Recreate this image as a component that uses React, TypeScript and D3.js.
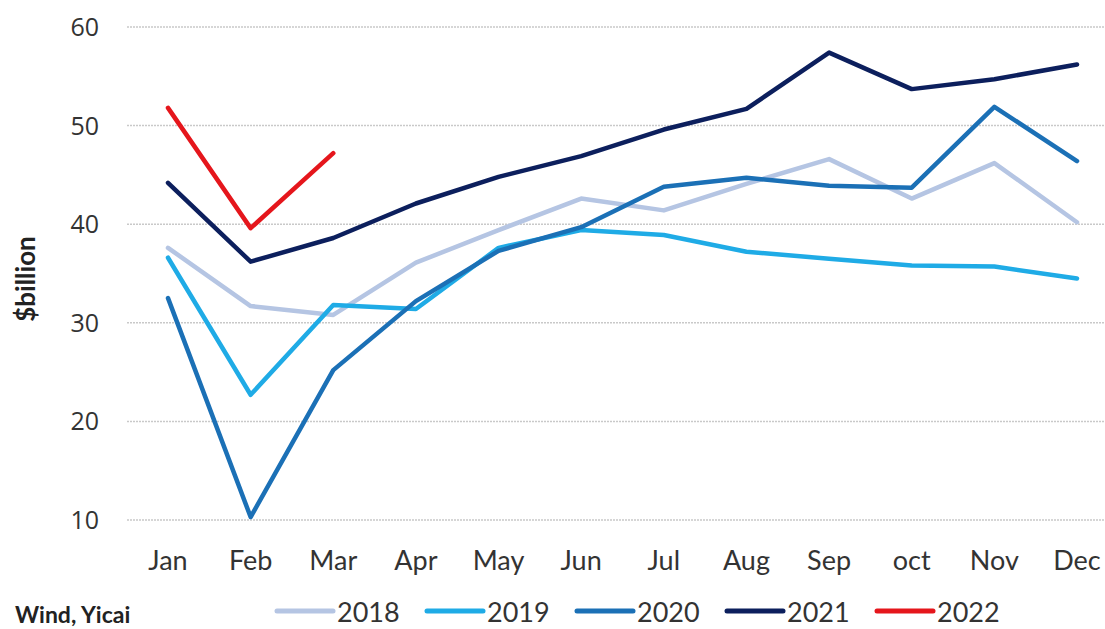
import React from "react";
import * as d3 from "d3";

const months = ["Jan", "Feb", "Mar", "Apr", "May", "Jun", "Jul", "Aug", "Sep", "oct", "Nov", "Dec"];
const yTicks = [10, 20, 30, 40, 50, 60];

const s2018 = [37.6, 31.7, 30.8, 36.1, 39.4, 42.6, 41.4, 44.1, 46.6, 42.6, 46.2, 40.2];
const s2019 = [36.6, 22.7, 31.8, 31.4, 37.6, 39.4, 38.9, 37.2, 36.5, 35.8, 35.7, 34.5];
const s2020 = [32.5, 10.3, 25.2, 32.2, 37.3, 39.7, 43.8, 44.7, 43.9, 43.7, 51.9, 46.4];
const s2021 = [44.2, 36.2, 38.6, 42.1, 44.8, 46.9, 49.6, 51.7, 57.4, 53.7, 54.7, 56.2];
const s2022 = [51.8, 39.6, 47.2];

const seriesNames = ["2018", "2019", "2020", "2021", "2022"];
const seriesData = [s2018, s2019, s2020, s2021, s2022];
const colors = ["#b5c5e3", "#1fabe6", "#1b70b6", "#0c1f5d", "#e5161c"];

export default function App() {
  const W = 1105, H = 629;
  const x = d3.scalePoint<string>().domain(months).range([168, 1077]);
  const y = d3.scaleLinear().domain([10, 60]).range([520, 27]);
  const line = d3
    .line<number>()
    .x((_, i) => x(months[i]) as number)
    .y((d) => y(d));

  const tickFont = "'Open Sans', 'DejaVu Sans', sans-serif";
  const font = "Lato, 'Open Sans', sans-serif";
  return (
    <svg width={W} height={H} style={{ position: "absolute", left: 0, top: 0, background: "#fff" }}>
      <rect width={W} height={H} fill="#fff" />
      {yTicks.map((t) => (
        <g key={t}>
          <line x1={127} x2={1105} y1={y(t)} y2={y(t)} stroke="#c9c9c9" strokeWidth={1.5} strokeDasharray="2 1" />
          <text x={99} y={y(t) + 9} textAnchor="end" fontFamily={tickFont} fontSize={25} fill="#333">
            {t}
          </text>
        </g>
      ))}
      {months.map((m) => (
        <text key={m} x={x(m)} y={570} textAnchor="middle" fontFamily={font} fontSize={27} fill="#333">
          {m}
        </text>
      ))}
      <text
        transform={`translate(35, 279) rotate(-90)`}
        textAnchor="middle"
        fontFamily={font}
        fontWeight="bold"
        fontSize={26}
        fill="#222"
      >
        $billion
      </text>
      {seriesData.map((s, i) => (
        <path
          key={seriesNames[i]}
          d={line(s) || ""}
          fill="none"
          stroke={colors[i]}
          strokeWidth={4.5}
          strokeLinejoin="round"
          strokeLinecap="round"
        />
      ))}
      <text x={15} y={623} fontFamily={font} fontWeight="bold" fontSize={23} fill="#222">
        Wind, Yicai
      </text>
      {seriesNames.map((n, i) => {
        const lx = 277 + i * 150;
        return (
          <g key={n}>
            <line x1={lx} x2={lx + 56} y1={611} y2={611} stroke={colors[i]} strokeWidth={5} strokeLinecap="round" />
            <text x={lx + 60} y={622} fontFamily={font} fontSize={27} fill="#333">
              {n}
            </text>
          </g>
        );
      })}
    </svg>
  );
}
